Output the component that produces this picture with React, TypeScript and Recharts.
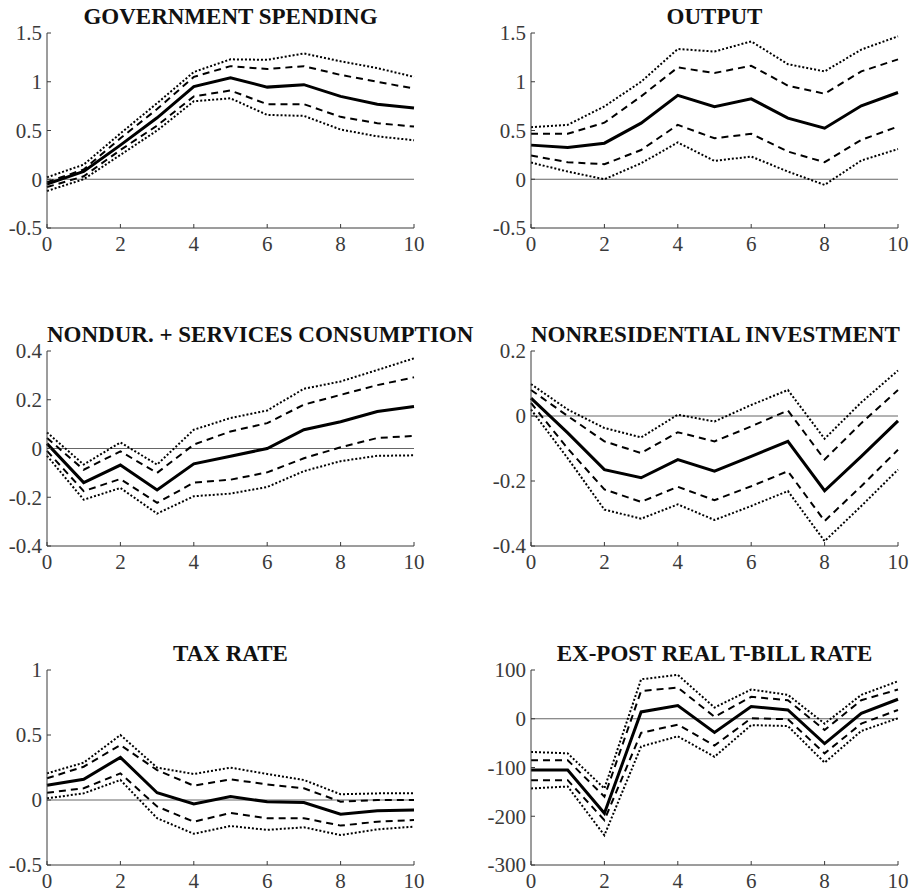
import React from "react";
import { Line, LineChart, ReferenceLine, XAxis, YAxis } from "recharts";

// horizon (quarters) and the x ticks
const horizon = [0, 1, 2, 3, 4, 5, 6, 7, 8, 9, 10];
const xTicks = [0, 2, 4, 6, 8, 10];

// GOVERNMENT SPENDING
const govMid = [-0.05, 0.08, 0.35, 0.63, 0.95, 1.04, 0.945, 0.97, 0.85, 0.77, 0.73];
const govDashHi = [-0.03, 0.1, 0.42, 0.72, 1.05, 1.16, 1.13, 1.16, 1.07, 1.0, 0.93];
const govDashLo = [-0.08, 0.03, 0.3, 0.55, 0.85, 0.91, 0.77, 0.77, 0.64, 0.575, 0.54];
const govDotHi = [0.02, 0.15, 0.47, 0.78, 1.1, 1.23, 1.225, 1.29, 1.21, 1.14, 1.05];
const govDotLo = [-0.12, 0.0, 0.25, 0.5, 0.8, 0.83, 0.66, 0.65, 0.51, 0.44, 0.4];

// OUTPUT
const outMid = [0.35, 0.325, 0.37, 0.575, 0.86, 0.745, 0.825, 0.627, 0.524, 0.753, 0.89];
const outDashHi = [0.466, 0.466, 0.58, 0.85, 1.147, 1.09, 1.164, 0.96, 0.877, 1.106, 1.23];
const outDashLo = [0.243, 0.175, 0.154, 0.3, 0.558, 0.42, 0.466, 0.284, 0.175, 0.404, 0.54];
const outDotHi = [0.534, 0.558, 0.747, 1.0, 1.336, 1.31, 1.414, 1.18, 1.106, 1.33, 1.466];
const outDotLo = [0.171, 0.079, 0.0, 0.164, 0.377, 0.188, 0.233, 0.079, -0.058, 0.192, 0.31];

// NONDUR. + SERVICES CONSUMPTION
const conMid = [0.02, -0.14, -0.068, -0.17, -0.063, -0.032, 0.0, 0.077, 0.11, 0.152, 0.172];
const conDashHi = [0.043, -0.087, -0.012, -0.1, 0.016, 0.07, 0.104, 0.18, 0.22, 0.26, 0.292];
const conDashLo = [-0.01, -0.175, -0.125, -0.223, -0.14, -0.128, -0.098, -0.04, 0.005, 0.043, 0.052];
const conDotHi = [0.066, -0.066, 0.025, -0.066, 0.077, 0.125, 0.156, 0.245, 0.275, 0.322, 0.37];
const conDotLo = [-0.03, -0.21, -0.162, -0.267, -0.196, -0.185, -0.158, -0.093, -0.052, -0.03, -0.028];

// NONRESIDENTIAL INVESTMENT
const invMid = [0.055, -0.052, -0.165, -0.19, -0.134, -0.17, -0.124, -0.078, -0.23, -0.124, -0.015];
const invDashHi = [0.08, 0.0, -0.078, -0.114, -0.05, -0.078, -0.032, 0.017, -0.134, -0.022, 0.08];
const invDashLo = [0.04, -0.1, -0.226, -0.264, -0.218, -0.259, -0.216, -0.17, -0.323, -0.216, -0.104];
const invDotHi = [0.098, 0.02, -0.037, -0.066, 0.004, -0.017, 0.034, 0.08, -0.07, 0.042, 0.14];
const invDotLo = [0.02, -0.13, -0.288, -0.316, -0.272, -0.32, -0.277, -0.231, -0.385, -0.277, -0.165];

// TAX RATE
const taxMid = [0.113, 0.16, 0.328, 0.056, -0.03, 0.026, -0.013, -0.02, -0.11, -0.082, -0.077];
const taxDashHi = [0.167, 0.256, 0.423, 0.23, 0.11, 0.159, 0.12, 0.09, -0.013, 0.0, 0.0];
const taxDashLo = [0.056, 0.09, 0.205, -0.05, -0.167, -0.1, -0.14, -0.14, -0.197, -0.167, -0.154];
const taxDotHi = [0.205, 0.287, 0.5, 0.249, 0.2, 0.249, 0.2, 0.154, 0.044, 0.051, 0.051];
const taxDotLo = [0.013, 0.051, 0.154, -0.14, -0.26, -0.2, -0.23, -0.21, -0.27, -0.226, -0.205];

// EX-POST REAL T-BILL RATE
const tbMid = [-105, -105, -194, 14, 27, -28, 25, 18, -51, 11, 40];
const tbDashHi = [-85, -85, -160, 57, 64, 4, 45, 38, -23, 38, 60];
const tbDashLo = [-126, -126, -208, -29, -12, -55, 1, -1, -71, -10, 18];
const tbDotHi = [-68, -71, -143, 81, 90, 23, 60, 49, -10, 49, 77];
const tbDotLo = [-143, -139, -239, -57, -36, -78, -13, -15, -90, -25, 1];

const FONT = "Liberation Serif, Tinos, Nimbus Roman, Times New Roman, Times, DejaVu Serif, serif";
const PLOT_W = 367;
const PLOT_H = 195;
const Y_AXIS_W = 60;
const TOP_PAD = 20;
const RIGHT_PAD = 20;
const X_AXIS_H = 40;

interface PanelProps {
  title: string;
  left: number;
  top: number;
  domain: [number, number];
  yTicks: number[];
  mid: number[];
  dashHi: number[];
  dashLo: number[];
  dotHi: number[];
  dotLo: number[];
}

function Panel({ title, left, top, domain, yTicks, mid, dashHi, dashLo, dotHi, dotLo }: PanelProps) {
  const rows = horizon.map((h, i) => ({
    h,
    mid: mid[i],
    dashHi: dashHi[i],
    dashLo: dashLo[i],
    dotHi: dotHi[i],
    dotLo: dotLo[i],
  }));
  const tick = { fill: "#3a3a3a", fontSize: 21, fontFamily: FONT };

  return (
    <>
      <div
        style={{
          position: "absolute",
          left,
          top: top - 28,
          width: PLOT_W,
          textAlign: "center",
          fontFamily: FONT,
          fontWeight: "bold",
          fontSize: 23,
          lineHeight: "23px",
          whiteSpace: "nowrap",
          color: "#111",
        }}
      >
        {title}
      </div>
      <div style={{ position: "absolute", left: left - Y_AXIS_W, top: top - TOP_PAD, fontFamily: FONT }}>
        <LineChart
          width={Y_AXIS_W + PLOT_W + RIGHT_PAD}
          height={TOP_PAD + PLOT_H + X_AXIS_H}
          data={rows}
          margin={{ top: TOP_PAD, right: RIGHT_PAD, left: 0, bottom: 0 }}
        >
          <XAxis
            dataKey="h"
            type="number"
            domain={[0, 10]}
            ticks={xTicks}
            height={X_AXIS_H}
            tick={tick}
            tickSize={-4}
            tickMargin={12}
            axisLine={{ stroke: "#3a3a3a" }}
            tickLine={{ stroke: "#3a3a3a" }}
          />
          <YAxis
            type="number"
            domain={domain}
            ticks={yTicks}
            width={Y_AXIS_W}
            allowDataOverflow
            tick={tick}
            tickSize={-4}
            tickMargin={9}
            axisLine={{ stroke: "#3a3a3a" }}
            tickLine={{ stroke: "#3a3a3a" }}
          />
          <ReferenceLine y={0} stroke="#666" strokeWidth={1} />
          <Line type="linear" dataKey="dotHi" stroke="#000" strokeWidth={2} strokeDasharray="2 2" dot={false} isAnimationActive={false} />
          <Line type="linear" dataKey="dotLo" stroke="#000" strokeWidth={2} strokeDasharray="2 2" dot={false} isAnimationActive={false} />
          <Line type="linear" dataKey="dashHi" stroke="#000" strokeWidth={2} strokeDasharray="7 5" dot={false} isAnimationActive={false} />
          <Line type="linear" dataKey="dashLo" stroke="#000" strokeWidth={2} strokeDasharray="7 5" dot={false} isAnimationActive={false} />
          <Line type="linear" dataKey="mid" stroke="#000" strokeWidth={3} dot={false} isAnimationActive={false} />
        </LineChart>
      </div>
    </>
  );
}

export default function App() {
  return (
    <div
      style={{
        position: "absolute",
        left: 0,
        top: 0,
        width: 911,
        height: 893,
        overflow: "hidden",
        background: "#fff",
      }}
    >
      <Panel title="GOVERNMENT SPENDING" left={47} top={33} domain={[-0.5, 1.5]} yTicks={[-0.5, 0, 0.5, 1, 1.5]}
        mid={govMid} dashHi={govDashHi} dashLo={govDashLo} dotHi={govDotHi} dotLo={govDotLo} />
      <Panel title="OUTPUT" left={531} top={33} domain={[-0.5, 1.5]} yTicks={[-0.5, 0, 0.5, 1, 1.5]}
        mid={outMid} dashHi={outDashHi} dashLo={outDashLo} dotHi={outDotHi} dotLo={outDotLo} />
      <Panel title="NONDUR. + SERVICES CONSUMPTION" left={47} top={351} domain={[-0.4, 0.4]} yTicks={[-0.4, -0.2, 0, 0.2, 0.4]}
        mid={conMid} dashHi={conDashHi} dashLo={conDashLo} dotHi={conDotHi} dotLo={conDotLo} />
      <Panel title="NONRESIDENTIAL INVESTMENT" left={531} top={351} domain={[-0.4, 0.2]} yTicks={[-0.4, -0.2, 0, 0.2]}
        mid={invMid} dashHi={invDashHi} dashLo={invDashLo} dotHi={invDotHi} dotLo={invDotLo} />
      <Panel title="TAX RATE" left={47} top={670} domain={[-0.5, 1]} yTicks={[-0.5, 0, 0.5, 1]}
        mid={taxMid} dashHi={taxDashHi} dashLo={taxDashLo} dotHi={taxDotHi} dotLo={taxDotLo} />
      <Panel title="EX-POST REAL T-BILL RATE" left={531} top={670} domain={[-300, 100]} yTicks={[-300, -200, -100, 0, 100]}
        mid={tbMid} dashHi={tbDashHi} dashLo={tbDashLo} dotHi={tbDotHi} dotLo={tbDotLo} />
    </div>
  );
}
